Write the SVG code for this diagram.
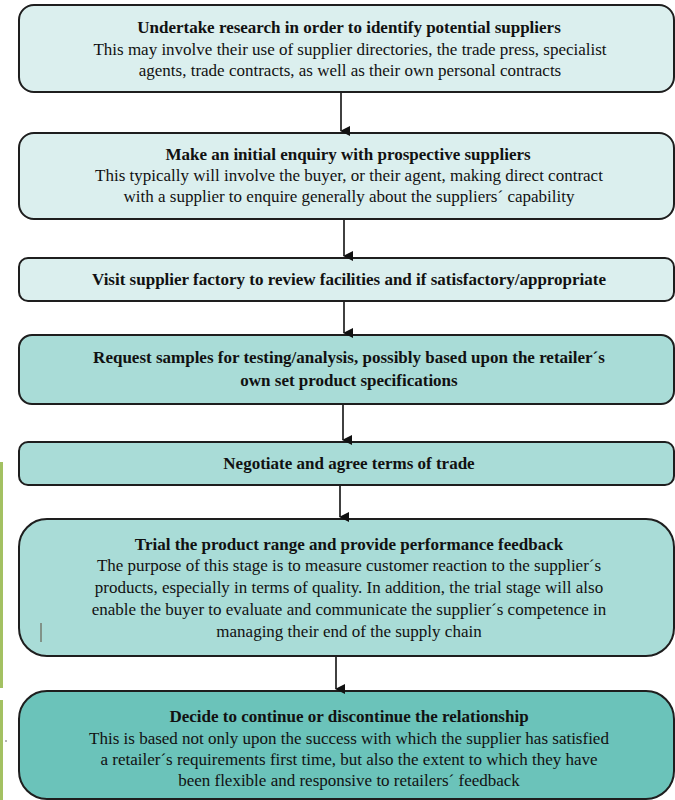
<svg xmlns="http://www.w3.org/2000/svg" width="675" height="800" viewBox="0 0 675 800">
<style>
.box{stroke:#1e1e1e;stroke-width:2}
.l1{fill:#dbefee}
.l2{fill:#a9dcd7}
.l3{fill:#6bc3ba}
.conn line{stroke:#111;stroke-width:1.6}
</style>
<defs>
<marker id="ah" markerWidth="10" markerHeight="10" refX="5" refY="9" orient="auto" markerUnits="userSpaceOnUse" viewBox="0 0 10 10">
<path d="M0,0 L10,0 L5,10 Z" fill="#111"/>
</marker>
</defs>
<rect x="0" y="462" width="3" height="226" fill="#a3c162"/>
<rect x="0" y="700" width="3" height="100" fill="#a3c162"/>
<circle cx="6" cy="741" r="0.8" fill="#555"/>
<g id="n1">
<rect class="box l1" x="19" y="5" width="655" height="87" rx="15"/>
<text style="font-family:'Liberation Serif',serif;font-size:17px;font-weight:bold;fill:#111;text-anchor:middle" x="349" y="33">Undertake research in order to identify potential suppliers</text>
<text style="font-family:'Liberation Serif',serif;font-size:17px;fill:#111;text-anchor:middle" x="350" y="55">This may involve their use of supplier directories, the trade press, specialist</text>
<text style="font-family:'Liberation Serif',serif;font-size:17px;fill:#111;text-anchor:middle" x="350" y="76">agents, trade contracts, as well as their own personal contracts</text>
</g>
<g id="n2">
<rect class="box l1" x="19" y="133" width="655" height="86" rx="15"/>
<text style="font-family:'Liberation Serif',serif;font-size:17px;font-weight:bold;fill:#111;text-anchor:middle" x="348" y="160">Make an initial enquiry with prospective suppliers</text>
<text style="font-family:'Liberation Serif',serif;font-size:17px;fill:#111;text-anchor:middle" x="349" y="181">This typically will involve the buyer, or their agent, making direct contract</text>
<text style="font-family:'Liberation Serif',serif;font-size:17px;fill:#111;text-anchor:middle" x="349" y="202">with a supplier to enquire generally about the suppliers´ capability</text>
</g>
<g id="n3">
<rect class="box l1" x="19" y="258" width="655" height="43" rx="9"/>
<text style="font-family:'Liberation Serif',serif;font-size:17px;font-weight:bold;fill:#111;text-anchor:middle" x="349" y="285">Visit supplier factory to review facilities and if satisfactory/appropriate</text>
</g>
<g id="n4">
<rect class="box l2" x="19" y="335" width="655" height="69" rx="13"/>
<text style="font-family:'Liberation Serif',serif;font-size:17px;font-weight:bold;fill:#111;text-anchor:middle" x="349" y="363">Request samples for testing/analysis, possibly based upon the retailer´s</text>
<text style="font-family:'Liberation Serif',serif;font-size:17px;font-weight:bold;fill:#111;text-anchor:middle" x="349" y="386">own set product specifications</text>
</g>
<g id="n5">
<rect class="box l2" x="19" y="442" width="655" height="43" rx="9"/>
<text style="font-family:'Liberation Serif',serif;font-size:17px;font-weight:bold;fill:#111;text-anchor:middle" x="349" y="469">Negotiate and agree terms of trade</text>
</g>
<g id="n6">
<rect class="box l2" x="19" y="519" width="655" height="137" rx="28"/>
<text style="font-family:'Liberation Serif',serif;font-size:17px;font-weight:bold;fill:#111;text-anchor:middle" x="349" y="550">Trial the product range and provide performance feedback</text>
<text style="font-family:'Liberation Serif',serif;font-size:17px;fill:#111;text-anchor:middle" x="349" y="571">The purpose of this stage is to measure customer reaction to the supplier´s</text>
<text style="font-family:'Liberation Serif',serif;font-size:17px;fill:#111;text-anchor:middle" x="349" y="593">products, especially in terms of quality. In addition, the trial stage will also</text>
<text style="font-family:'Liberation Serif',serif;font-size:17px;fill:#111;text-anchor:middle" x="349" y="615">enable the buyer to evaluate and communicate the supplier´s competence in</text>
<text style="font-family:'Liberation Serif',serif;font-size:17px;fill:#111;text-anchor:middle" x="349" y="637">managing their end of the supply chain</text>
<line x1="41" y1="623" x2="41" y2="642" stroke="#5a4a3a" stroke-width="1"/>
</g>
<g id="n7">
<rect class="box l3" x="19" y="691" width="655" height="108" rx="28"/>
<text style="font-family:'Liberation Serif',serif;font-size:17px;font-weight:bold;fill:#111;text-anchor:middle" x="349" y="722">Decide to continue or discontinue the relationship</text>
<text style="font-family:'Liberation Serif',serif;font-size:17px;fill:#111;text-anchor:middle" x="349" y="744">This is based not only upon the success with which the supplier has satisfied</text>
<text style="font-family:'Liberation Serif',serif;font-size:17px;fill:#111;text-anchor:middle" x="349" y="765">a retailer´s requirements first time, but also the extent to which they have</text>
<text style="font-family:'Liberation Serif',serif;font-size:17px;fill:#111;text-anchor:middle" x="349" y="786">been flexible and responsive to retailers´ feedback</text>
</g>
<g id="connectors" class="conn">
<line x1="341" y1="93" x2="341" y2="131" marker-end="url(#ah)"/>
<line x1="344" y1="220" x2="344" y2="256" marker-end="url(#ah)"/>
<line x1="344" y1="302" x2="344" y2="333" marker-end="url(#ah)"/>
<line x1="343" y1="405" x2="343" y2="440" marker-end="url(#ah)"/>
<line x1="340" y1="486" x2="340" y2="517" marker-end="url(#ah)"/>
<line x1="336" y1="657" x2="336" y2="689" marker-end="url(#ah)"/>
</g>
</svg>
